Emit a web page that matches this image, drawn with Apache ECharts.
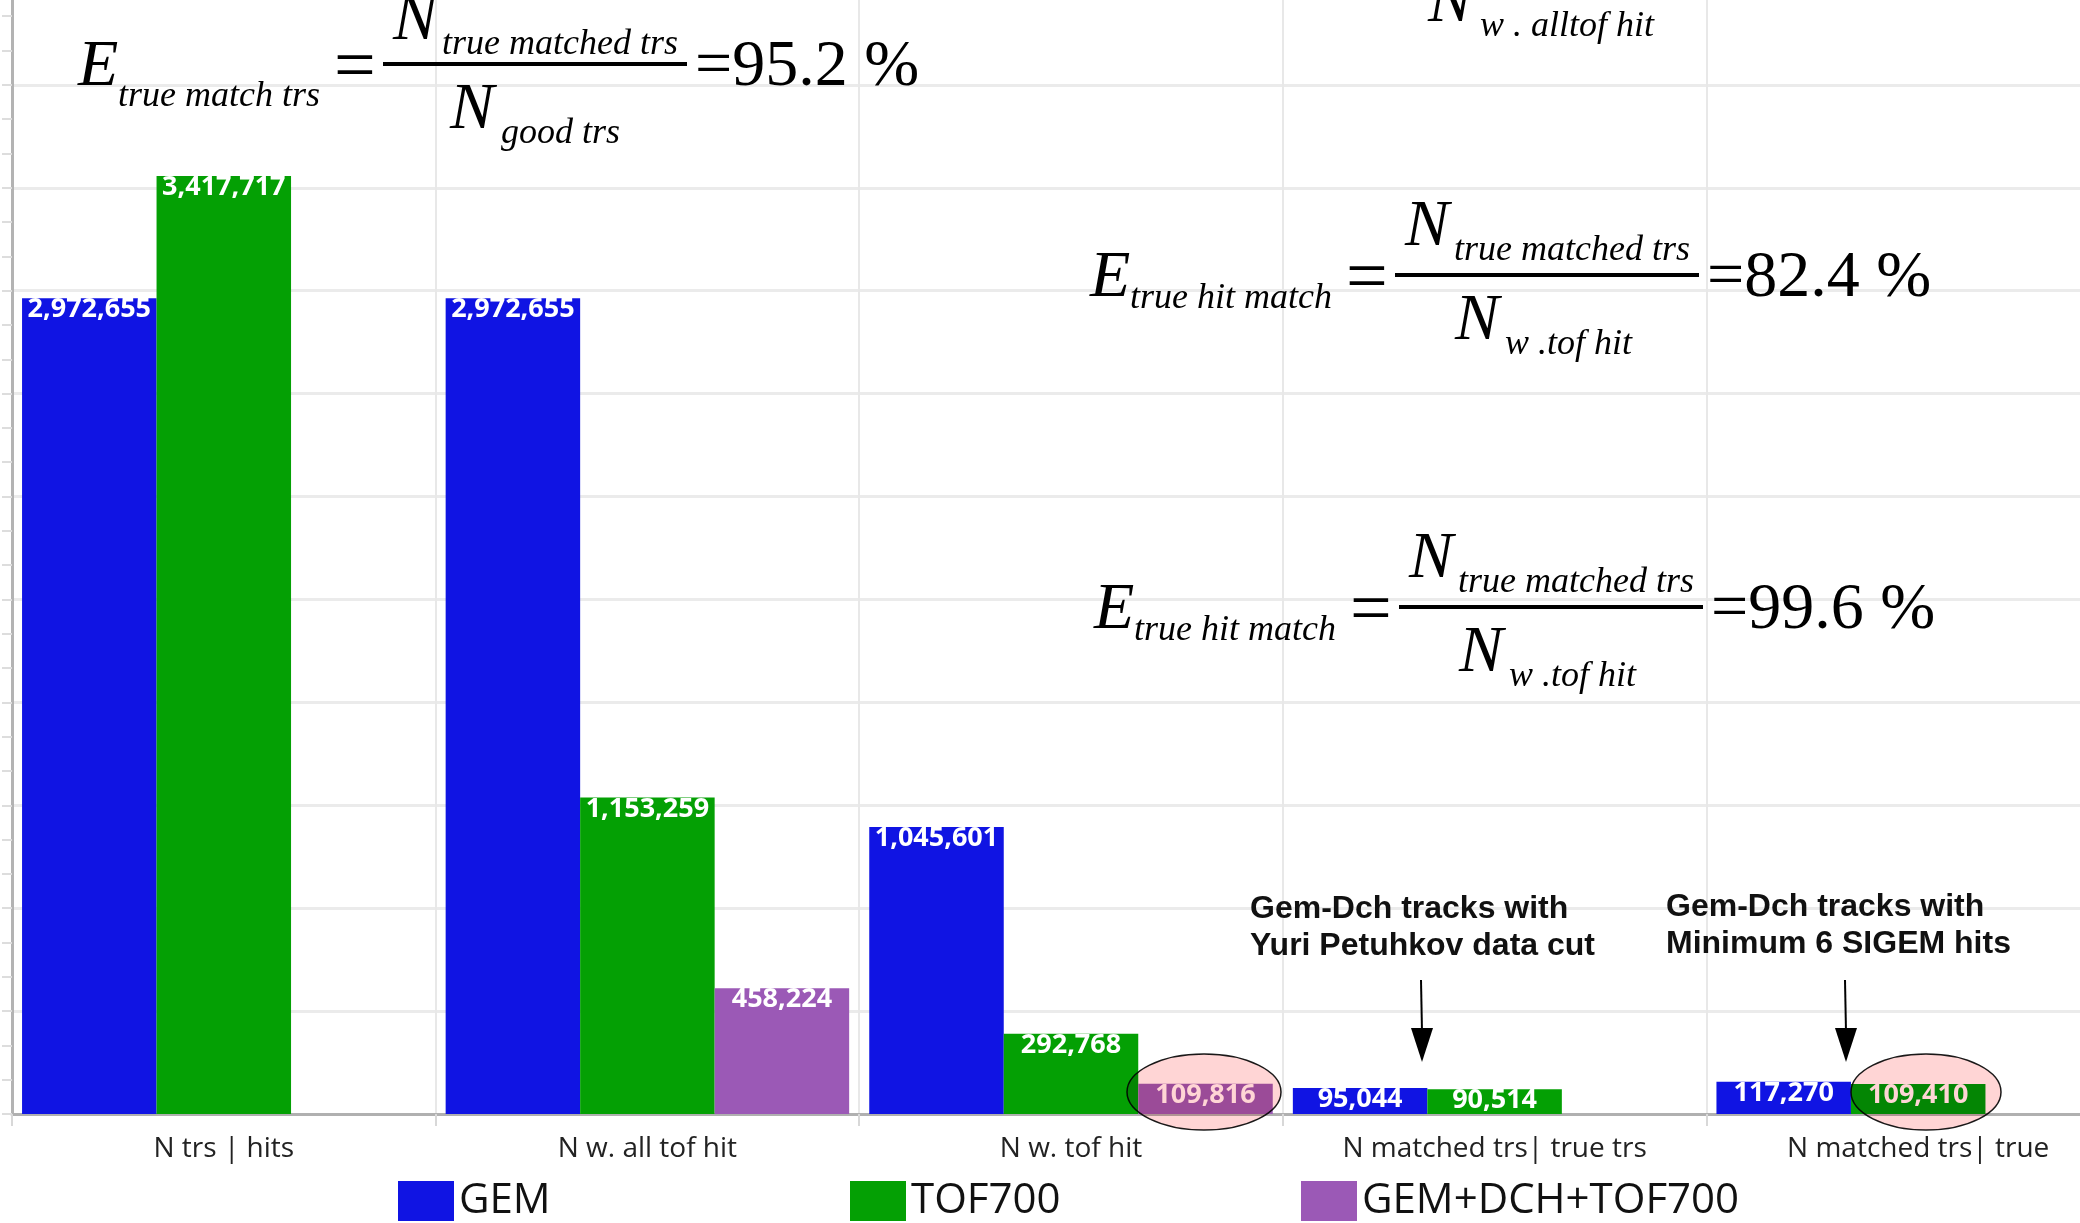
<!DOCTYPE html>
<html>
<head>
<meta charset="utf-8">
<title>Track matching statistics</title>
<script src="https://cdn.jsdelivr.net/npm/echarts@6/dist/echarts.min.js"></script>
<style>
  html, body { margin: 0; padding: 0; background: #ffffff; width: 2080px; height: 1223px; overflow: hidden; position: relative; }
  /* the plot continues past the top and right edges of the page */
  #chart { position: absolute; left: 0; top: -122px; width: 2130px; height: 1345px; }
</style>
</head>
<body>
<div id="chart"></div>
<script>
// Categories along the x axis
const categories = [
  'N trs | hits',
  'N w. all tof hit',
  'N w. tof hit',
  'N matched trs| true trs',
  'N matched trs| true'
];

// Counts per detector group
const seriesNames = ['GEM', 'TOF700', 'GEM+DCH+TOF700'];
const gemValues = [2972655, 2972655, 1045601, 95044, 117270];
const tofValues = [3417717, 1153259, 292768, 90514, 109410];
const gemDchTofValues = [null, 458224, 109816, null, null];

// Efficiency formulas written on the chart
const efficiencyLhs = ['true match trs', 'true hit match', 'true hit match'];
const efficiencyNum = ['true matched trs', 'true matched trs', 'true matched trs'];
const efficiencyDen = ['good trs', 'w .tof hit', 'w .tof hit'];
const efficiencyValues = ['=95.2 %', '=82.4 %', '=99.6 %'];
const topDenominator = 'w . alltof hit';

// Notes above the last two categories
const noteLeft = ['Gem-Dch tracks with', 'Yuri Petuhkov data cut'];
const noteRight = ['Gem-Dch tracks with', 'Minimum 6 SIGEM hits'];

const colors = ['#1014e3', '#04a004', '#9b59b6'];

// vertical shift between page coordinates and chart coordinates
const OY = 122;

const SERIF_I = 'italic 66px "Liberation Serif"';
const SERIF_I_SUB = 'italic 36px "Liberation Serif"';
const SERIF = '66px "Liberation Serif"';
const SERIF_EQ = '74px "Liberation Serif"';

function txt(x, y, text, font, fill) {
  return {
    type: 'text',
    z: 50,
    style: {
      x: x, y: y, text: text, font: font, fill: fill || '#000',
      align: 'left', verticalAlign: 'middle',
      textAlign: 'left', textVerticalAlign: 'middle'
    }
  };
}

// Builds E_sub = N_num / N_den = value, anchored at the fraction bar's left end
function formula(ax, ay, lhs, num, den, value, tweak) {
  const t = Object.assign({ denN: 60, denSub: 110, lhsDy: 0, numDy: 0 }, tweak || {});
  return [
    txt(ax - 305, ay + 4, 'E', SERIF_I),
    txt(ax - 265, ay + 24 + t.lhsDy, lhs, SERIF_I_SUB),
    txt(ax - 49, ay + 6, '=', SERIF_EQ),
    { type: 'rect', z: 50, shape: { x: ax, y: ay - 2, width: 304, height: 4 }, style: { fill: '#000' } },
    txt(ax + 10, ay - 47 + t.numDy, 'N', SERIF_I),
    txt(ax + 59, ay - 24 + t.numDy, num, SERIF_I_SUB),
    txt(ax + t.denN, ay + 47, 'N', SERIF_I),
    txt(ax + t.denSub, ay + 70, den, SERIF_I_SUB),
    txt(ax + 312, ay + 4, value, SERIF)
  ];
}

function arrow(x1, y1, x2, y2) {
  return [
    { type: 'line', z: 50, shape: { x1: x1, y1: y1, x2: x2, y2: y2 - 30 }, style: { stroke: '#000', lineWidth: 2 } },
    { type: 'polygon', z: 50, shape: { points: [[x2 - 11, y2 - 34], [x2 + 11, y2 - 34], [x2, y2]] }, style: { fill: '#000' } }
  ];
}

function note(x, y, lines) {
  return lines.map(function (line, i) {
    return txt(x, y + i * 37, line, 'bold 32px "Liberation Sans"', '#111');
  });
}

function highlight(cx, cy, rx, ry) {
  return {
    type: 'ellipse', z: 100,
    shape: { cx: cx, cy: cy, rx: rx, ry: ry },
    style: { fill: '#ffd5d5', stroke: '#1a1a1a', lineWidth: 1.5, blend: 'multiply' }
  };
}

const pageGraphics = []
  .concat(formula(383, 64, efficiencyLhs[0], efficiencyNum[0], efficiencyDen[0], efficiencyValues[0],
    { denN: 67, denSub: 118, lhsDy: 9, numDy: 5 }))
  .concat(formula(1395, 275, efficiencyLhs[1], efficiencyNum[1], efficiencyDen[1], efficiencyValues[1]))
  .concat(formula(1399, 607, efficiencyLhs[2], efficiencyNum[2], efficiencyDen[2], efficiencyValues[2]))
  .concat([
    txt(1428, 4, 'N', SERIF_I),
    txt(1480, 27, topDenominator, SERIF_I_SUB)
  ])
  .concat(note(1250, 909, noteLeft))
  .concat(note(1666, 907, noteRight))
  .concat(arrow(1421, 980, 1422, 1062))
  .concat(arrow(1845, 980, 1846, 1062))
  .concat([
    highlight(1204, 1092, 77, 38),
    highlight(1926, 1092, 75, 38)
  ]);

const valueLabel = {
  show: true,
  position: 'insideTop',
  distance: -2,
  color: '#ffffff',
  fontFamily: 'Open Sans',
  fontWeight: 'bold',
  fontSize: 27,
  formatter: function (p) { return p.value == null ? '' : Number(p.value).toLocaleString('en-US'); }
};

function barSeries(name, data) {
  return {
    name: name,
    type: 'bar',
    data: data,
    barWidth: 134.5,
    barGap: '0%',
    label: valueLabel,
    emphasis: { disabled: true }
  };
}

// one legend block per series, evenly spaced along the bottom
const legendLefts = [398, 850, 1301];
const legends = seriesNames.map(function (name, i) {
  return {
    data: [name],
    left: legendLefts[i],
    top: 1180 + OY,
    padding: 0,
    itemWidth: 56,
    itemHeight: 40,
    icon: 'rect',
    selectedMode: false,
    textStyle: { fontFamily: 'Open Sans', fontSize: 42, color: '#111' }
  };
});

const chart = echarts.init(document.getElementById('chart'), null, { renderer: 'canvas' });
chart.setOption({
  animation: false,
  backgroundColor: '#ffffff',
  color: colors,
  grid: { left: 12, right: 0, top: 1, bottom: 109, containLabel: false },
  legend: legends,
  xAxis: {
    type: 'category',
    data: categories,
    axisLine: { show: true, lineStyle: { color: '#b0b0b0', width: 3 } },
    axisTick: { show: true, length: 12, lineStyle: { color: '#d8d8d8', width: 2 } },
    splitLine: { show: true, lineStyle: { color: '#e8e8e8', width: 2 } },
    axisLabel: { fontFamily: 'Open Sans', fontSize: 28, color: '#222', margin: 21, interval: 0 }
  },
  yAxis: {
    type: 'value',
    min: 0,
    max: 4500000,
    interval: 375000,
    axisLine: { show: true, lineStyle: { color: '#b3b3b3', width: 3 } },
    axisTick: { show: true, length: 10, lineStyle: { color: '#dddddd', width: 2 } },
    minorTick: { show: true, splitNumber: 3, length: 10, lineStyle: { color: '#dddddd', width: 2 } },
    splitLine: { show: true, lineStyle: { color: '#ebebeb', width: 3 } },
    axisLabel: { show: false }
  },
  series: [
    barSeries(seriesNames[0], gemValues),
    barSeries(seriesNames[1], tofValues),
    barSeries(seriesNames[2], gemDchTofValues)
  ],
  graphic: { elements: [{ type: 'group', x: 0, y: OY, children: pageGraphics }] }
});
</script>
</body>
</html>
